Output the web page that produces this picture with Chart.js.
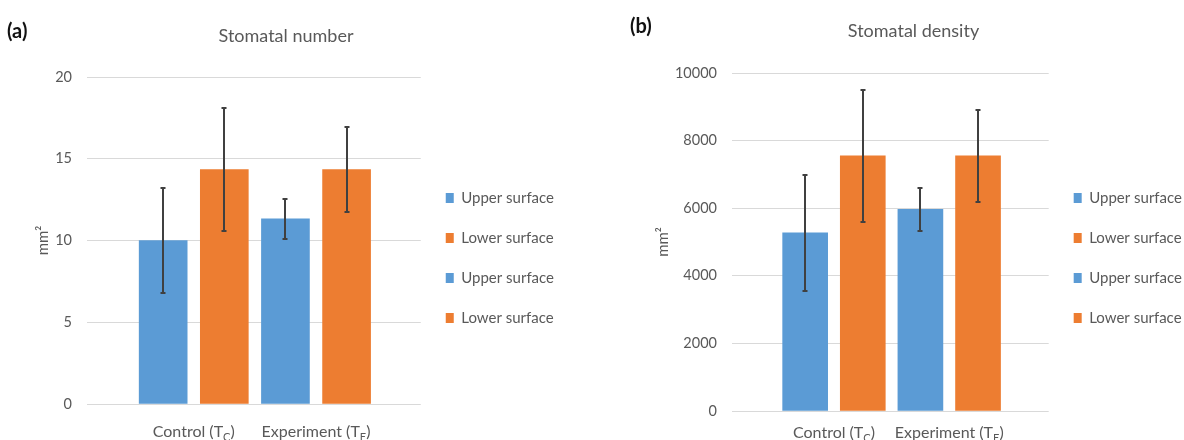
<!DOCTYPE html>
<html>
<head>
<meta charset="utf-8">
<script src="https://cdn.jsdelivr.net/npm/chart.js@4.4.1/dist/chart.umd.min.js"></script>
<style>
  html, body { margin: 0; padding: 0; background: #fff; width: 1184px; height: 440px; overflow: hidden; }
  .panel { position: absolute; top: 0; width: 600px; height: 440px; }
  .tag { position: absolute; font: bold 20px Lato, sans-serif; color: #111; line-height: 1; }
</style>
</head>
<body>
<div class="panel" style="left:0"><canvas id="numberChart" width="600" height="440"></canvas></div>
<div class="panel" style="left:600px"><canvas id="densityChart" width="600" height="440"></canvas></div>
<div class="tag" style="left:7px; top:20px">(a)</div>
<div class="tag" style="left:630px; top:15px">(b)</div>
<script>
// categories (pairs of bars) and legend entries
const groupLabels = ['Control (T_C)', 'Experiment (T_E)'];
const seriesNames = ['Upper surface', 'Lower surface', 'Upper surface', 'Lower surface'];

// Stomatal number (mm²)
const numberMeans = [10.0, 14.33, 11.33, 14.33];
const numberErrors = [3.2, 3.75, 1.23, 2.6];
const numberTicks = [0, 5, 10, 15, 20];

// Stomatal density (mm²)
const densityMeans = [5270, 7550, 5965, 7550];
const densityErrors = [1710, 1955, 645, 1355];
const densityTicks = [0, 2000, 4000, 6000, 8000, 10000];

const FONT = 'Lato, "Open Sans", sans-serif';
const TEXT = '#595959';
const BLUE = '#5B9BD5';
const ORANGE = '#ED7D31';
const W = 600, H = 440;

// error bars on top of each bar
const errorBars = {
  id: 'errorBars',
  afterDatasetsDraw(chart, args, opts) {
    const { ctx } = chart;
    const y = chart.scales.y;
    ctx.save();
    ctx.strokeStyle = opts.color;
    ctx.lineWidth = opts.width;
    chart.data.datasets.forEach((ds, i) => {
      chart.getDatasetMeta(i).data.forEach((bar, j) => {
        const v = ds.data[j].y, e = ds.errors[j];
        const top = Math.round(y.getPixelForValue(v + e));
        const bot = Math.round(y.getPixelForValue(v - e));
        const x = Math.round(bar.x);
        ctx.beginPath();
        ctx.moveTo(x, top); ctx.lineTo(x, bot);
        ctx.moveTo(x - opts.cap, top); ctx.lineTo(x + opts.cap, top);
        ctx.moveTo(x - opts.cap, bot); ctx.lineTo(x + opts.cap, bot);
        ctx.stroke();
      });
    });
    ctx.restore();
  }
};

// category labels under each pair, with subscript (T_C -> T with C lowered)
const groupAxisLabels = {
  id: 'groupAxisLabels',
  afterDraw(chart, args, opts) {
    const { ctx } = chart;
    ctx.save();
    ctx.fillStyle = TEXT;
    ctx.textBaseline = 'alphabetic';
    ctx.textAlign = 'left';
    opts.labels.forEach((label, g) => {
      const a = chart.getDatasetMeta(2 * g).data[0];
      const b = chart.getDatasetMeta(2 * g + 1).data[0];
      const cx = (a.x + b.x) / 2;
      const [head, rest] = label.split('_');
      const sub = rest.slice(0, 1), tail = rest.slice(1);
      const main = `${opts.size}px ${FONT}`, small = `${opts.subSize}px ${FONT}`;
      ctx.font = main;
      const wHead = ctx.measureText(head).width, wTail = ctx.measureText(tail).width;
      ctx.font = small;
      const wSub = ctx.measureText(sub).width;
      let x = cx - (wHead + wSub + wTail) / 2;
      ctx.font = main;
      ctx.fillText(head, x, opts.baseline); x += wHead;
      ctx.font = small;
      ctx.fillText(sub, x, opts.baseline + opts.subDrop); x += wSub;
      ctx.font = main;
      ctx.fillText(tail, x, opts.baseline);
    });
    ctx.restore();
  }
};

function buildChart(canvasId, means, errors, ticks, title, geo) {
  const legendSize = 15, rowPitch = 40, legendPad = rowPitch - legendSize, boxW = 8;
  const plotRight = geo.legendX - legendPad;
  const colH = seriesNames.length * rowPitch;
  const legendTitleH = 2 * (geo.legendY0 - legendSize / 2) - geo.plotTop - legendPad - geo.plotBottom + colH;

  // x range so that bar i sits at firstBar + i * pitch
  const xMin = -(geo.firstBar - geo.plotLeft) / geo.barPitch;
  const xMax = xMin + (plotRight - geo.plotLeft) / geo.barPitch;

  const titleSize = 18, titleLH = titleSize * 1.2;
  const yTitleSize = 15, yTitleLH = yTitleSize * 1.2;

  const chart = new Chart(document.getElementById(canvasId), {
    type: 'bar',
    data: {
      datasets: means.map((m, i) => ({
        label: seriesNames[i],
        data: [{ x: i, y: m }],
        errors: [errors[i]],
        backgroundColor: i % 2 === 0 ? BLUE : ORANGE,
        borderWidth: 0,
        barThickness: geo.barWidth,
        grouped: false
      }))
    },
    options: {
      responsive: false,
      animation: false,
      layout: { padding: { left: 20, right: 20, top: 0, bottom: H - geo.plotBottom } },
      plugins: {
        title: {
          display: true,
          text: title,
          color: TEXT,
          font: { family: FONT, size: titleSize, weight: 'normal' },
          padding: { top: geo.titleY - titleLH / 2, bottom: geo.plotTop - geo.titleY - titleLH / 2 }
        },
        legend: {
          position: 'right',
          align: 'center',
          fullSize: false,
          title: {
            display: true,
            text: ' ',
            font: { family: FONT, size: 10, lineHeight: 1 },
            padding: { top: legendTitleH - 10, bottom: 0 }
          },
          labels: {
            color: TEXT,
            font: { family: FONT, size: legendSize },
            boxWidth: boxW,
            boxHeight: 10,
            padding: legendPad
          }
        },
        tooltip: { enabled: false },
        errorBars: { color: '#404040', width: 2, cap: 2.5 },
        groupAxisLabels: { labels: groupLabels, size: 16, subSize: 11, subDrop: 4, baseline: geo.labelBaseline }
      },
      scales: {
        x: { type: 'linear', display: false, offset: false, min: xMin, max: xMax },
        y: {
          min: ticks[0],
          max: ticks[ticks.length - 1],
          border: { display: false },
          grid: { color: '#D9D9D9', lineWidth: 1, drawTicks: false },
          ticks: {
            stepSize: ticks[1] - ticks[0],
            color: TEXT,
            padding: 15,
            font: { family: FONT, size: 14.5 },
            callback: v => String(v)
          },
          title: {
            display: true,
            text: 'mm²',
            color: TEXT,
            font: { family: FONT, size: yTitleSize },
            padding: { top: 10, bottom: 0 }
          },
          afterFit(scale) { scale.width = geo.plotLeft - scale.chart.options.layout.padding.left; }
        }
      }
    },
    plugins: [errorBars, groupAxisLabels]
  });

  // pin legend / title / axis title to the reference positions
  for (let k = 0; k < 3; k++) {
    const pad = chart.options.layout.padding;
    pad.right += chart.legend.left - plotRight;
    pad.left = 2 * geo.titleX - (W - pad.right);
    chart.options.scales.y.title.padding.top = geo.yTitleX - pad.left - yTitleLH / 2;
    chart.update();
  }
  return chart;
}

buildChart('numberChart', numberMeans, numberErrors, numberTicks, 'Stomatal number', {
  plotLeft: 87, plotTop: 77, plotBottom: 404, firstBar: 163, barPitch: 61, barWidth: 48,
  titleX: 286, titleY: 36, yTitleX: 43, legendX: 445, legendY0: 198, labelBaseline: 437
});

buildChart('densityChart', densityMeans, densityErrors, densityTicks, 'Stomatal density', {
  plotLeft: 132, plotTop: 73, plotBottom: 411, firstBar: 205, barPitch: 57.5, barWidth: 45,
  titleX: 313.5, titleY: 31, yTitleX: 63, legendX: 473, legendY0: 198, labelBaseline: 438
});
</script>
</body>
</html>
